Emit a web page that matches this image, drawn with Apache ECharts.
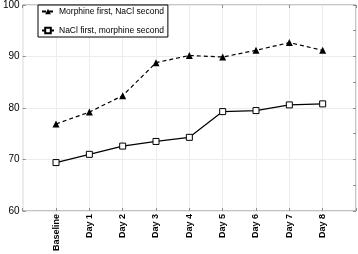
<!DOCTYPE html>
<html>
<head>
<meta charset="utf-8">
<script src="https://cdn.jsdelivr.net/npm/echarts@6/dist/echarts.min.js"></script>
<style>
  html, body { margin: 0; padding: 0; background: #fff; }
  #chart { width: 358px; height: 254px; }
</style>
</head>
<body>
<div id="chart"></div>
<script>
// categories (blank slots at both ends give the half-step padding of the original)
const days = ['Baseline', 'Day 1', 'Day 2', 'Day 3', 'Day 4', 'Day 5', 'Day 6', 'Day 7', 'Day 8'];
const yTicks = [60, 70, 80, 90, 100];

// series values
const morphineFirst = [76.9, 79.2, 82.4, 88.8, 90.2, 89.9, 91.2, 92.7, 91.2];
const naclFirst = [69.4, 71.0, 72.6, 73.5, 74.3, 79.3, 79.5, 80.6, 80.8];

const cats = [''].concat(days, ['']);
const pad = arr => [null].concat(arr, [null]);

const chart = echarts.init(document.getElementById('chart'));
const grey = '#8c8c8c';
const font = 'Liberation Sans, Arial, sans-serif';

chart.setOption({
  animation: false,
  textStyle: { fontFamily: font },
  grid: {
    left: 20, right: 2, top: 5, bottom: 40,
    show: true, borderColor: grey, borderWidth: 1
  },
  legend: {
    orient: 'vertical',
    left: 38, top: 5,
    backgroundColor: '#fff',
    borderColor: '#000', borderWidth: 1, borderRadius: 0,
    padding: [2, 4, 2, 3],
    itemGap: 10,
    itemWidth: 12, itemHeight: 7,
    textStyle: { fontSize: 8.5, color: '#000', fontFamily: font },
    data: ['Morphine first, NaCl second', 'NaCl first, morphine second']
  },
  xAxis: [{
    type: 'category',
    data: cats,
    boundaryGap: false,
    axisLine: { show: false },
    axisTick: { show: true, inside: true, length: 3, lineStyle: { color: grey } },
    splitLine: { show: true, lineStyle: { color: '#ececec' } },
    axisLabel: {
      rotate: 90, fontSize: 9, fontWeight: 'bold', color: '#000', margin: 3, interval: 0
    }
  }, {
    type: 'category',
    position: 'top',
    data: cats,
    boundaryGap: false,
    axisLine: { show: false },
    axisTick: { show: true, inside: true, length: 3, lineStyle: { color: grey } },
    axisLabel: { show: false },
    splitLine: { show: false }
  }],
  yAxis: [{
    type: 'value',
    min: yTicks[0], max: yTicks[yTicks.length - 1], interval: 10,
    axisLine: { show: false },
    axisTick: { show: true, inside: true, length: 3, lineStyle: { color: grey } },
    splitLine: { show: true, lineStyle: { color: '#ececec' } },
    axisLabel: { fontSize: 10, color: '#000', margin: 3 }
  }, {
    type: 'value',
    position: 'right',
    min: yTicks[0], max: yTicks[yTicks.length - 1], interval: 5,
    axisLine: { show: false },
    axisTick: { show: true, inside: true, length: 3, lineStyle: { color: grey } },
    splitLine: { show: false },
    axisLabel: { show: false }
  }],
  series: [{
    name: 'Morphine first, NaCl second',
    type: 'line',
    data: pad(morphineFirst),
    symbol: 'triangle',
    symbolSize: 7,
    showAllSymbol: true,
    itemStyle: { color: '#000' },
    lineStyle: { color: '#000', width: 1.2, type: [4, 3] }
  }, {
    name: 'NaCl first, morphine second',
    type: 'line',
    data: pad(naclFirst),
    symbol: 'rect',
    symbolSize: 6,
    showAllSymbol: true,
    itemStyle: { color: '#fff', borderColor: '#000', borderWidth: 1 },
    lineStyle: { color: '#000', width: 1.2 }
  }]
});
</script>
</body>
</html>
